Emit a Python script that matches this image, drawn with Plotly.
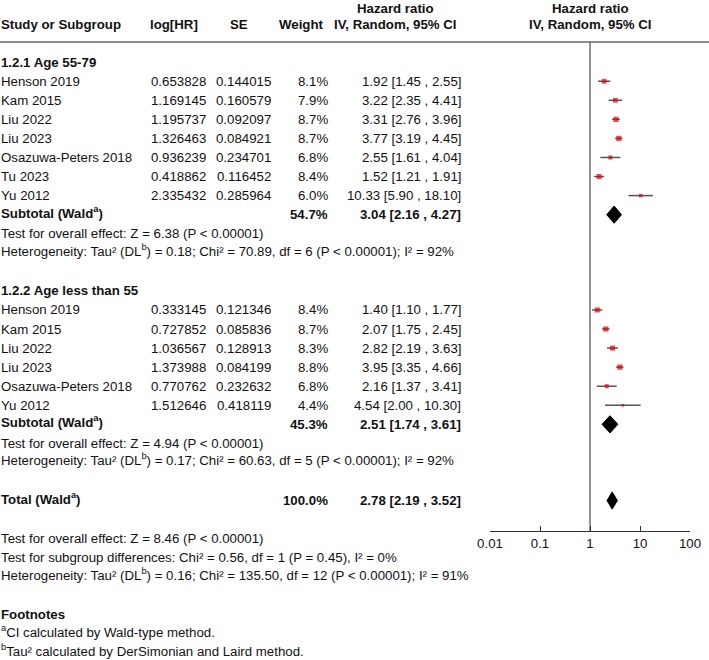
import plotly.graph_objects as go

# ---------------- data ----------------
g1_name = "1.2.1 Age 55-79"
g1_study = ["Henson 2019", "Kam 2015", "Liu 2022", "Liu 2023", "Osazuwa-Peters 2018", "Tu 2023", "Yu 2012"]
g1_loghr = [0.653828, 1.169145, 1.195737, 1.326463, 0.936239, 0.418862, 2.335432]
g1_se = [0.144015, 0.160579, 0.092097, 0.084921, 0.234701, 0.116452, 0.285964]
g1_weight = [8.1, 7.9, 8.7, 8.7, 6.8, 8.4, 6.0]
g1_hr = [1.92, 3.22, 3.31, 3.77, 2.55, 1.52, 10.33]
g1_lo = [1.45, 2.35, 2.76, 3.19, 1.61, 1.21, 5.90]
g1_hi = [2.55, 4.41, 3.96, 4.45, 4.04, 1.91, 18.10]
g1_sub = [54.7, 3.04, 2.16, 4.27]
g1_test = "Test for overall effect: Z = 6.38 (P < 0.00001)"
g1_het = "Heterogeneity: Tau² (DL<sup>b</sup>) = 0.18; Chi² = 70.89, df = 6 (P < 0.00001); I² = 92%"

g2_name = "1.2.2 Age less than 55"
g2_study = ["Henson 2019", "Kam 2015", "Liu 2022", "Liu 2023", "Osazuwa-Peters 2018", "Yu 2012"]
g2_loghr = [0.333145, 0.727852, 1.036567, 1.373988, 0.770762, 1.512646]
g2_se = [0.121346, 0.085836, 0.128913, 0.084199, 0.232632, 0.418119]
g2_weight = [8.4, 8.7, 8.3, 8.8, 6.8, 4.4]
g2_hr = [1.40, 2.07, 2.82, 3.95, 2.16, 4.54]
g2_lo = [1.10, 1.75, 2.19, 3.35, 1.37, 2.00]
g2_hi = [1.77, 2.45, 3.63, 4.66, 3.41, 10.30]
g2_sub = [45.3, 2.51, 1.74, 3.61]
g2_test = "Test for overall effect: Z = 4.94 (P < 0.00001)"
g2_het = "Heterogeneity: Tau² (DL<sup>b</sup>) = 0.17; Chi² = 60.63, df = 5 (P < 0.00001); I² = 92%"

total = [100.0, 2.78, 2.19, 3.52]
total_notes = [
    "Test for overall effect: Z = 8.46 (P < 0.00001)",
    "Test for subgroup differences: Chi² = 0.56, df = 1 (P = 0.45), I² = 0%",
    "Heterogeneity: Tau² (DL<sup>b</sup>) = 0.16; Chi² = 135.50, df = 12 (P < 0.00001); I² = 91%",
]
footnotes = ["<sup>a</sup>CI calculated by Wald-type method.",
             "<sup>b</sup>Tau² calculated by DerSimonian and Laird method."]
tick_vals = [0.01, 0.1, 1, 10, 100]
tick_text = ["0.01", "0.1", "1", "10", "100"]

# ---------------- layout helpers ----------------
W, H = 709, 660
ROW0, ROWH = 5.0, 19.06
FONT = "Liberation Sans, Arial, sans-serif"
FS = 13.25
TXT = "#111111"

def px(x):
    return x / W

annos = []

def txt(x, r, s, anchor="left", bold=False):
    if "<sup>" in s:
        r -= 0.13  # superscripts enlarge the text box downward; re-centre the baseline
    annos.append(dict(x=px(x), y=r, xref="paper", yref="y", text=("<b>%s</b>" % s) if bold else s,
                      xanchor=anchor, yanchor="middle", showarrow=False, borderpad=0,
                      font=dict(family=FONT, size=FS, color=TXT)))

def ci_text(h, l, u):
    return "%.2f [%.2f , %.2f]" % (h, l, u)

# headers
txt(395, 0.17, "Hazard ratio", "center", True)
txt(590, 0.17, "Hazard ratio", "center", True)
txt(0, 1, "Study or Subgroup", "left", True)
txt(174, 1, "log[HR]", "center", True)
txt(239, 1, "SE", "center", True)
txt(301, 1, "Weight", "center", True)
txt(395, 1, "IV, Random, 95% CI", "center", True)
txt(590, 1, "IV, Random, 95% CI", "center", True)

pts_x, pts_y, pts_s = [], [], []
ci_x, ci_y = [], []
dia_x, dia_y = [], []
DH = 0.45

def diamond(r, h, l, u):
    dia_x.extend([l, h, u, h, l, None])
    dia_y.extend([r, r - DH, r, r + DH, r, None])

def group(start, name, study, loghr, se, weight, hr, lo, hi, sub, test, het):
    r = start
    txt(0, r, name, "left", True)
    r += 1
    for i in range(len(study)):
        txt(0, r, study[i])
        txt(207, r, "%.6f" % loghr[i], "right")
        txt(272, r, "%.6f" % se[i], "right")
        txt(329, r, "%.1f%%" % weight[i], "right")
        txt(462, r, ci_text(hr[i], lo[i], hi[i]), "right")
        pts_x.append(hr[i]); pts_y.append(r); pts_s.append(weight[i] * 0.6)
        ci_x.extend([lo[i], hi[i], None]); ci_y.extend([r, r, None])
        r += 1
    txt(0, r, "Subtotal (Wald<sup>a</sup>)", "left", True)
    txt(329, r, "%.1f%%" % sub[0], "right", True)
    txt(462, r, ci_text(sub[1], sub[2], sub[3]), "right", True)
    diamond(r, sub[1], sub[2], sub[3])
    r += 1
    txt(0, r, test)
    r += 1
    txt(0, r, het)
    return r + 2

r = group(3, g1_name, g1_study, g1_loghr, g1_se, g1_weight, g1_hr, g1_lo, g1_hi, g1_sub, g1_test, g1_het)
r = group(r, g2_name, g2_study, g2_loghr, g2_se, g2_weight, g2_hr, g2_lo, g2_hi, g2_sub, g2_test, g2_het)
txt(0, r, "Total (Wald<sup>a</sup>)", "left", True)
txt(329, r, "%.1f%%" % total[0], "right", True)
txt(462, r, ci_text(total[1], total[2], total[3]), "right", True)
diamond(r, total[1], total[2], total[3])
r += 2
for s in total_notes:
    txt(0, r, s)
    r += 1
r += 1
txt(0, r, "Footnotes", "left", True)
r += 1
for s in footnotes:
    txt(0, r, s)
    r += 1

y_top = -ROW0 / ROWH
y_bot = (H - ROW0) / ROWH
axis_px = 531
axis_r = (axis_px - ROW0) / ROWH
head_r = (42 - ROW0) / ROWH

fig = go.Figure()
fig.add_trace(go.Scatter(x=[1, 1], y=[head_r, axis_r], mode="lines",
                         line=dict(color="#7a7a7a", width=1.6), hoverinfo="skip"))
fig.add_trace(go.Scatter(x=ci_x, y=ci_y, mode="lines", line=dict(color="#555555", width=1.5),
                         hoverinfo="skip"))
fig.add_trace(go.Scatter(x=pts_x, y=pts_y, mode="markers",
                         marker=dict(symbol="square", size=pts_s, color="#e00000", line=dict(width=0))))
fig.add_trace(go.Scatter(x=dia_x, y=dia_y, mode="lines", fill="toself", fillcolor="#000000",
                         line=dict(color="#000000", width=1), hoverinfo="skip"))

fig.update_layout(
    width=W, height=H, margin=dict(l=0, r=0, t=0, b=0, pad=0, autoexpand=False), autosize=False,
    paper_bgcolor="white", plot_bgcolor="rgba(0,0,0,0)", showlegend=False,
    font=dict(family=FONT, size=FS, color=TXT),
    annotations=annos,
    shapes=[dict(type="line", xref="paper", yref="y", x0=0, x1=1, y0=head_r, y1=head_r,
                 line=dict(color="#666666", width=1.5))],
    xaxis=dict(type="log", range=[-2, 2], domain=[px(490), px(690)], anchor="free",
               position=(H - axis_px) / H, showline=True, linecolor="#333333", linewidth=1.2,
               ticks="inside", ticklen=5, tickcolor="#333333", tickwidth=1.2, automargin=False,
               tickvals=tick_vals, ticktext=tick_text, showgrid=False, zeroline=False,
               tickfont=dict(family=FONT, size=FS, color=TXT)),
    yaxis=dict(range=[y_bot, y_top], domain=[0, 1], visible=False, showgrid=False, zeroline=False,
               automargin=False),
)

fig.write_html("out.html", config={"responsive": False, "displayModeBar": False},
               post_script="document.body.style.margin='0';document.body.style.overflow='hidden';")
